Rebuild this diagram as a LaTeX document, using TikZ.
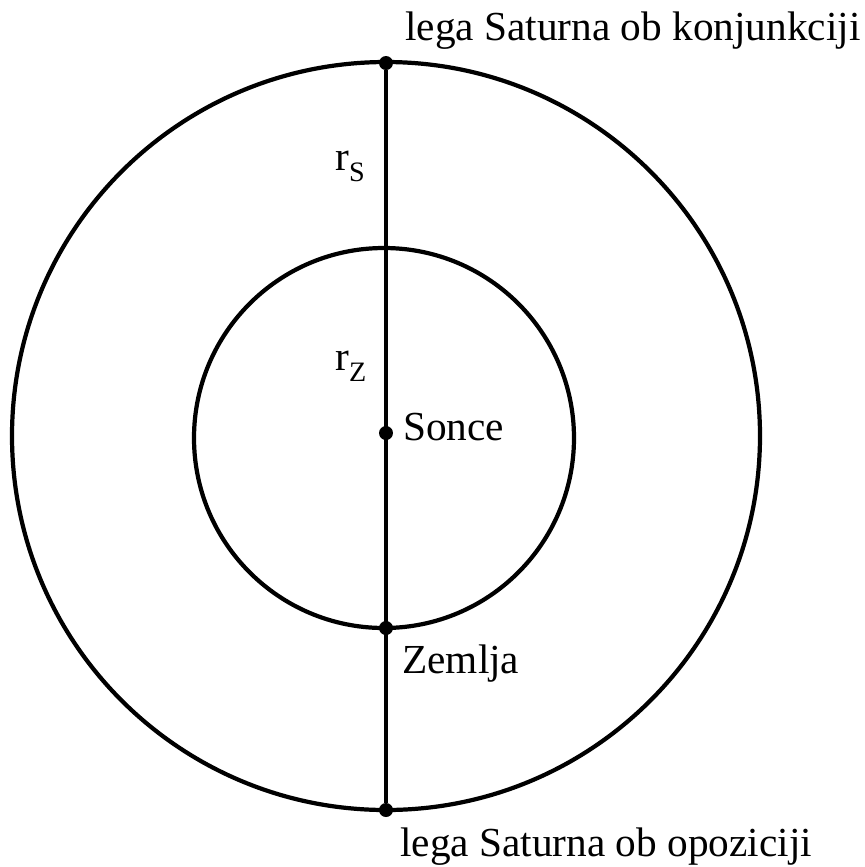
\documentclass[tikz,border=0pt]{standalone}
\usepackage{fontspec}
\setmainfont{Liberation Serif}
\usetikzlibrary{positioning}
\newcommand{\orbsub}[1]{\raisebox{-6.5pt}{\fontsize{16}{16}\selectfont #1}}

\begin{document}
\begin{tikzpicture}[x=0.02cm,y=-0.02cm,every node/.style={font=\fontsize{23.5}{28}\selectfont},
  dot/.style={circle,fill,inner sep=0pt,minimum size=0.28cm},
  txt/.style={anchor=base west,inner sep=0pt}]
\useasboundingbox (0,0) rectangle (865,867);
\draw[line width=2.4pt] (386,436) circle[radius=374];
\draw[line width=2.4pt] (384,438) circle[radius=190];
\node[dot] (conj)  at (386,63)  {};
\node[dot] (opp)   at (386,810) {};
\node[dot] (earth) at (386,628) {};
\node[dot] (sun)   at (386,433) {};
\draw[line width=1.8pt] (conj) -- (opp);
\node[txt] (conjlab) at (405,40)  {lega Saturna ob konjunkciji};
\node[txt] (opplab)  at (400,856) {lega Saturna ob opoziciji};
\node[txt] (rs)      at (335,170) {r\orbsub{S}};
\node[txt] (rz)      at (335,370) {r\orbsub{Z}};
\node[txt] (sunlab)  at (403,440) {Sonce};
\node[txt] (earthlab) at (402,673) {Zemlja};
\end{tikzpicture}
\end{document}
